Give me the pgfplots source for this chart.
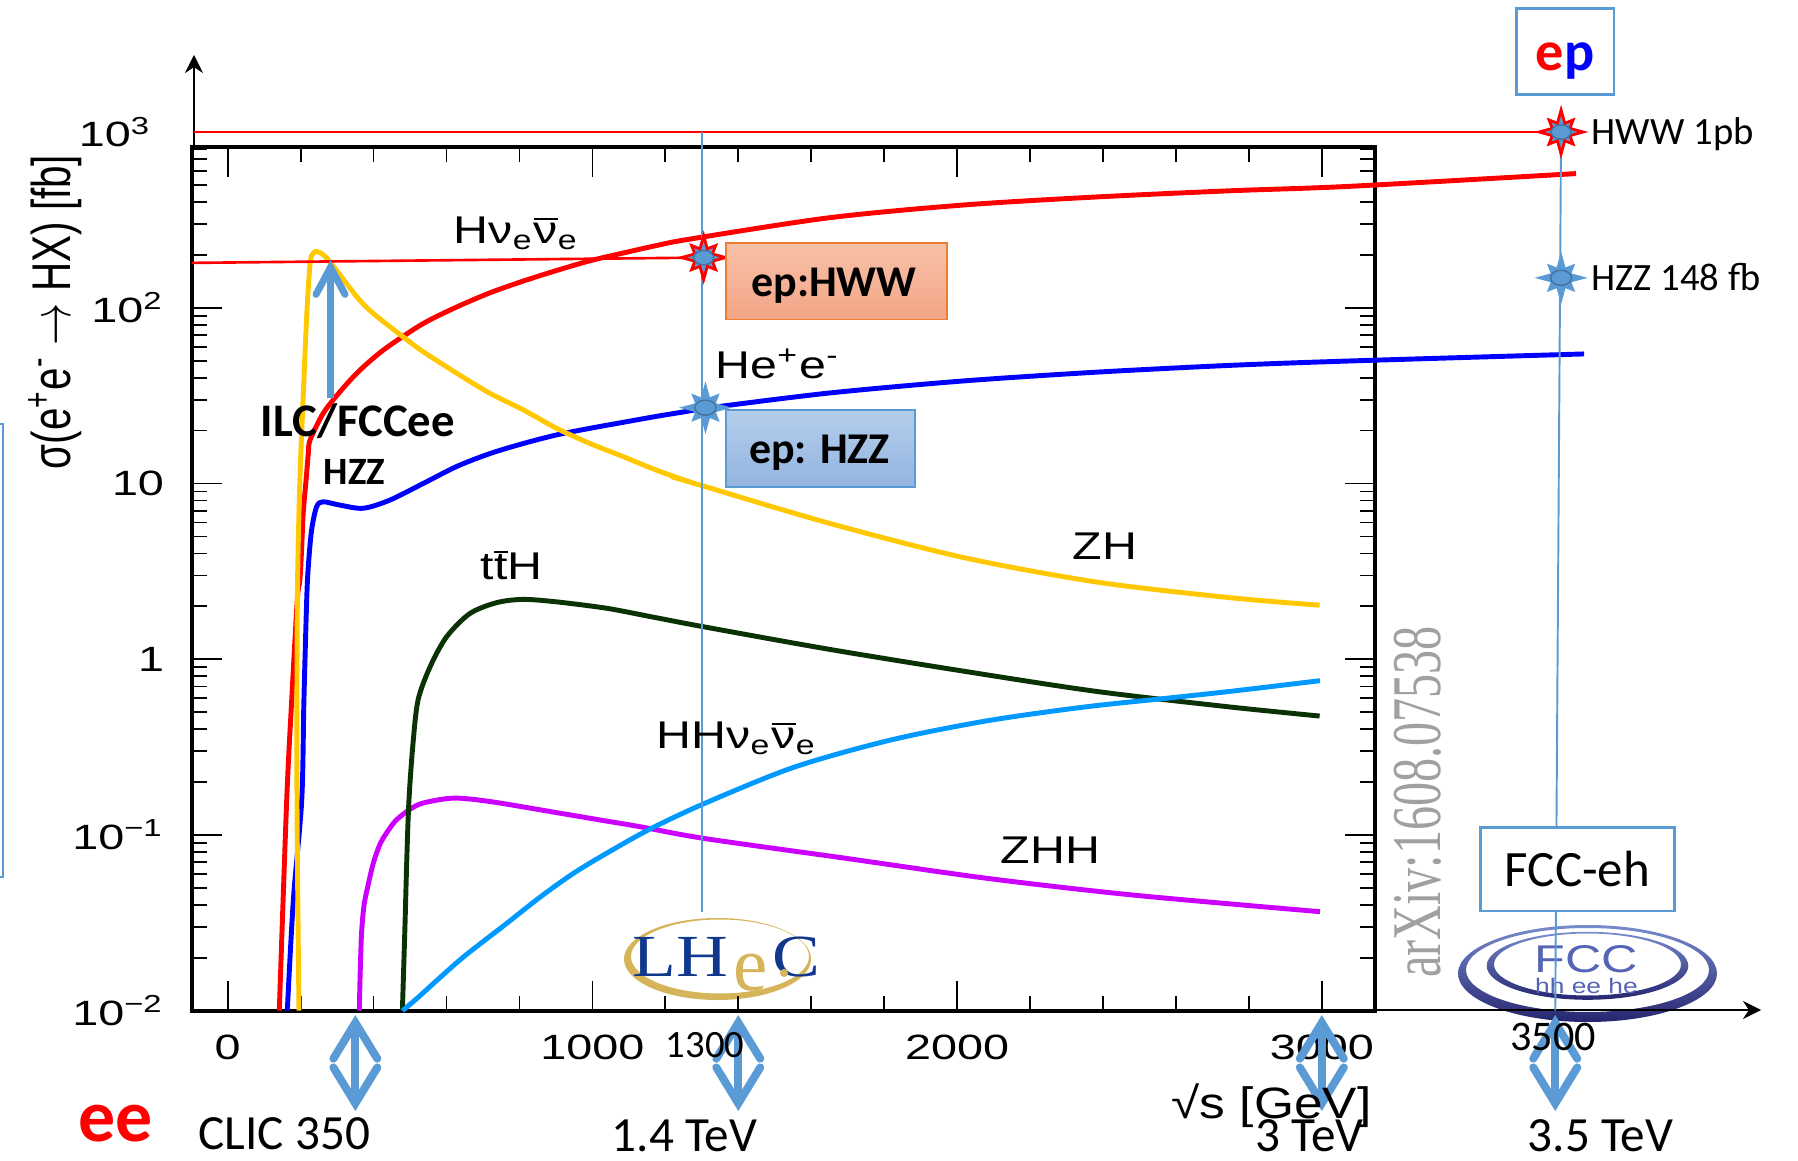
\documentclass[border=0pt]{standalone}
\usepackage{fontspec}
\setmainfont{Liberation Sans}
\newfontfamily\calib{Carlito}
\newfontfamily\serifrm{Liberation Serif}
\usepackage{graphicx}
\usepackage{pgfplots}
\pgfplotsset{compat=1.18}
\usetikzlibrary{arrows.meta}

\definecolor{zhgold}{RGB}{255,200,0}
\definecolor{tthgreen}{RGB}{10,50,5}
\definecolor{zhhpurple}{RGB}{204,0,255}
\definecolor{hhsky}{RGB}{0,153,255}
\definecolor{lineblue}{RGB}{91,155,213}
\definecolor{stardark}{RGB}{65,113,156}
\definecolor{lhecgold}{RGB}{214,180,90}
\definecolor{lhecnavy}{RGB}{16,56,140}
\definecolor{fccnavy}{RGB}{38,38,112}
\definecolor{fcclight}{RGB}{120,140,205}
\definecolor{fcctext}{RGB}{85,100,180}
\definecolor{arxivgray}{RGB}{160,160,160}

% tick labels and curve labels are set slightly wide
\newcommand\wtick[1]{{\fontsize{10}{12}\selectfont\scalebox{1.33}[1]{#1}}}
\newcommand\clab[1]{{\fontsize{11}{13}\selectfont\scalebox{1.25}[1]{#1}}}
\newcommand\nubar{\leavevmode\setbox0\hbox{ν}\rlap{\rule[1.12\ht0]{\wd0}{0.06em}}\box0}
\newcommand\tbar{\leavevmode\setbox0\hbox{t}\rlap{\rule[1.08\ht0]{\wd0}{0.06em}}\box0}

% starburst with an oval core
\pgfdeclareplotmark{burst}{%
  \pgfpathmoveto{\pgfpointpolar{0}{2.2\pgfplotmarksize}}%
  \pgfpathlineto{\pgfpointpolar{22.5}{0.95\pgfplotmarksize}}%
  \pgfpathlineto{\pgfpointpolar{45}{1.7\pgfplotmarksize}}%
  \pgfpathlineto{\pgfpointpolar{67.5}{0.95\pgfplotmarksize}}%
  \pgfpathlineto{\pgfpointpolar{90}{2.2\pgfplotmarksize}}%
  \pgfpathlineto{\pgfpointpolar{112.5}{0.95\pgfplotmarksize}}%
  \pgfpathlineto{\pgfpointpolar{135}{1.7\pgfplotmarksize}}%
  \pgfpathlineto{\pgfpointpolar{157.5}{0.95\pgfplotmarksize}}%
  \pgfpathlineto{\pgfpointpolar{180}{2.2\pgfplotmarksize}}%
  \pgfpathlineto{\pgfpointpolar{202.5}{0.95\pgfplotmarksize}}%
  \pgfpathlineto{\pgfpointpolar{225}{1.7\pgfplotmarksize}}%
  \pgfpathlineto{\pgfpointpolar{247.5}{0.95\pgfplotmarksize}}%
  \pgfpathlineto{\pgfpointpolar{270}{2.2\pgfplotmarksize}}%
  \pgfpathlineto{\pgfpointpolar{292.5}{0.95\pgfplotmarksize}}%
  \pgfpathlineto{\pgfpointpolar{315}{1.7\pgfplotmarksize}}%
  \pgfpathlineto{\pgfpointpolar{337.5}{0.95\pgfplotmarksize}}%
  \pgfpathclose
  \pgfusepathqfillstroke
  \pgfscope
  \pgfpathellipse{\pgfpointorigin}{\pgfqpoint{1.0\pgfplotmarksize}{0pt}}{\pgfqpoint{0pt}{0.72\pgfplotmarksize}}%
  \pgfsetfillcolor{lineblue}%
  \pgfsetstrokecolor{stardark}%
  \pgfsetlinewidth{0.4pt}%
  \pgfusepathqfillstroke
  \endpgfscope
}

\tikzset{
  dblarrow/.style={lineblue, line width=0.8mm,
    {Straight Barb[length=3.6mm,width=4.4mm,line cap=round]}-{Straight Barb[length=3.6mm,width=4.4mm,line cap=round]}},
  xsec/.style={line width=1.4pt, smooth, tension=0.5}
}

\begin{document}
\begin{tikzpicture}
\path[use as bounding box] (0,0) rectangle (17.98,11.60);

% partly visible frame at the left edge
\draw[lineblue, line width=0.6pt] (0,7.36) -- (0.03,7.36) -- (0.03,2.83) -- (0,2.83);

% FCC logo
\shade[even odd rule, top color=fcclight, bottom color=fccnavy]
  (15.875,1.865) ellipse [x radius=1.295, y radius=0.485]
  (15.875,1.90) ellipse [x radius=1.215, y radius=0.42];
\shade[even odd rule, top color=fcclight, bottom color=fccnavy]
  (15.875,1.942) ellipse [x radius=1.008, y radius=0.34]
  (15.875,1.955) ellipse [x radius=0.935, y radius=0.31];
\node[anchor=base, inner sep=0pt, text=fcctext] at (15.865,1.88)
  {\fontsize{11}{13}\selectfont\scalebox{1.3}[1]{FCC}};
\node[anchor=base, inner sep=0pt, text=fcctext] at (15.865,1.66)
  {\fontsize{6}{7}\selectfont\scalebox{1.25}[1]{hh ee he}};

% LHeC logo
\fill[lhecgold, even odd rule]
  (7.175,2.01) ellipse [x radius=0.935, y radius=0.41]
  (7.20,2.035) ellipse [x radius=0.89, y radius=0.37];
\node[anchor=base west, inner sep=0pt, text=lhecnavy] at (6.315,1.83)
  {\serifrm\fontsize{17}{20}\selectfont\scalebox{1.2}[1]{LH}};
\node[anchor=base west, inner sep=0pt, text=lhecgold] at (7.33,1.70)
  {\serifrm\fontsize{22}{26}\selectfont e};
\node[anchor=base west, inner sep=0pt, text=lhecnavy] at (7.72,1.83)
  {\serifrm\fontsize{17}{20}\selectfont\scalebox{1.2}[1]{C}};
\fill[lhecgold] (7.84,1.87) circle (0.04);

% extended axes beyond the frame
\draw[line width=0.7pt, -{Stealth[length=1.8mm,width=1.8mm]}] (1.94,10.10) -- (1.94,11.05);
\draw[line width=0.7pt, -{Stealth[length=1.8mm,width=1.8mm]}] (13.73,1.50) -- (17.61,1.50);

% vertical axis title
\node[rotate=90] at (0.55,8.48)
  {\fontsize{11.5}{14}\selectfont\scalebox{1}[1.35]{σ(e\textsuperscript{+}e\textsuperscript{-} $\rightarrow$ HX) [fb]}};

\begin{axis}[
  at={(1.917cm,1.493cm)}, anchor=south west,
  scale only axis, width=11.83cm, height=8.634cm,
  xmin=-98.7, xmax=3145,
  ymode=log, ymin=0.01, ymax=818.5,
  clip=false,
  axis line style={line width=1.1pt},
  tick align=inside,
  major tick length=3mm, minor tick length=1.5mm,
  tick style={black, line width=0.5pt},
  xtick={0,1000,2000,3000},
  minor xtick={200,400,600,800,1200,1400,1600,1800,2200,2400,2600,2800},
  ytick={0.01,0.1,1,10,100},
  minor ytick={0.02,0.03,0.04,0.05,0.06,0.07,0.08,0.09,
               0.2,0.3,0.4,0.5,0.6,0.7,0.8,0.9,
               2,3,4,5,6,7,8,9,20,30,40,50,60,70,80,90,
               200,300,400,500,600,700,800},
  /pgf/number format/assume math mode=true,
  xticklabels={\wtick{0},\wtick{1000},\wtick{2000},\wtick{3000}},
  yticklabels={\wtick{10\textsuperscript{−2}},\wtick{10\textsuperscript{−1}},
               \wtick{1},\wtick{10},\wtick{10\textsuperscript{2}}},
  xticklabel style={inner sep=0pt, yshift=-2.4mm},
  yticklabel style={inner sep=0pt, xshift=-2.7mm},
]
% H nu nu (WW fusion)
\addplot[red, xsec] coordinates {
 (141.5,0.01) (161.8,0.158) (175.5,0.586) (190.8,2.17) (198,2.83) (203,4.37)
 (207,6.76) (215,10.5) (221,14.8) (226,17.7) (262,25.1) (308,33.3) (354,42.4)
 (399,51.6) (445,61.2) (536,81.3) (628,101) (719,121.6) (811,142) (902,163)
 (993,185) (1085,205) (1176,226) (1268,246) (1648,325) (2015,384) (2382,427)
 (2748,463) (3078,491) (3697,580)};
% H e+ e- (ZZ fusion)
\addplot[blue, xsec] coordinates {
 (163.4,0.01) (180,0.0426) (203,0.158) (209,0.586) (216.6,2.17) (221,3.36)
 (230,5.43) (244,7.38) (262,7.87) (308,7.53) (372,7.23) (445,8.05) (536,10.0)
 (628,12.5) (719,14.8) (811,16.9) (902,18.9) (993,20.6) (1085,22.3)
 (1176,24.1) (1268,25.9) (1317,26.9) (1648,32.7) (2015,38.3) (2382,43)
 (2748,47) (3078,49.8) (3719,54.6)};
% ZH
\addplot[zhgold, xsec] coordinates {
 (195.5,0.01) (190,0.158) (191,2.17) (198,10.5) (209,38.8) (217,93) (226,179)
 (235,205) (248,208) (276,187) (354,115.5) (399,92.9) (486,67)
 (536,56.2) (628,42.4) (719,32.6) (811,26.2) (902,20.6) (993,16.9)
 (1085,14.2) (1176,11.9) (1268,10.2) (1305,9.66) (1648,5.95) (2015,3.8)
 (2382,2.75) (2748,2.24) (2994,2.03)};
% ZHH
\addplot[zhhpurple, xsec] coordinates {
 (361,0.01) (363,0.0156) (367,0.0275) (374,0.04) (386,0.053) (400,0.07)
 (418,0.089) (440,0.106) (463,0.122) (500,0.14) (536,0.152) (619,0.162)
 (719,0.155) (902,0.134) (1021,0.1217) (1131,0.1114) (1307,0.0955)
 (1686,0.0741) (2084,0.0566) (2483,0.0455) (2995,0.0366)};
% ttH
\addplot[tthgreen, xsec] coordinates {
 (479,0.01) (486,0.03) (491,0.072) (497,0.158) (508,0.33) (522,0.586)
 (555,0.906) (600,1.34) (664,1.82) (738,2.1) (810,2.19) (902,2.12) (1039,1.95)
 (1158,1.75) (1305,1.53) (1648,1.14) (2015,0.857) (2382,0.656) (2748,0.535)
 (2994,0.475)};
% HH nu nu
\addplot[hhsky, xsec] coordinates {
 (479,0.01) (520,0.0118) (580,0.0153) (650,0.0205) (765,0.0314) (856,0.0442)
 (948,0.0605) (1039,0.0787) (1154,0.107) (1307,0.151) (1553,0.243)
 (1818,0.347) (2084,0.447) (2350,0.535) (2575,0.6) (2748,0.656) (2995,0.755)};

% ep reference lines
\addplot[red, line width=0.75pt] coordinates {(-92,1000) (3656,1000)};
\addplot[red, line width=0.75pt] coordinates {(-98.7,180) (1305,193)};
\addplot[lineblue, line width=0.55pt] coordinates {(1300,1000) (1300,0.0366)};
\addplot[lineblue, line width=0.55pt] coordinates {(3656,1000) (3640,0.01)};

% ep cross sections
\addplot[only marks, mark=burst, mark size=1mm,
  mark options={draw=red, fill=lineblue, line width=0.8pt}]
  coordinates {(1305,193) (3656,1000)};
\addplot[only marks, mark=burst, mark size=1.05mm,
  mark options={draw=lineblue, fill=lineblue, line width=0.5pt}]
  coordinates {(1310,27) (3656,148)};

\node[anchor=base west, inner sep=0pt, xshift=3mm, yshift=-3.5pt] at (axis cs:3656,1000)
  {\calib\fontsize{11}{13}\selectfont HWW 1pb};
\node[anchor=base west, inner sep=0pt, xshift=3mm, yshift=-3.5pt] at (axis cs:3656,148)
  {\calib\fontsize{11}{13}\selectfont HZZ 148 fb};

% ILC / FCC-ee pointer
\draw[lineblue, line width=0.7mm, -{Straight Barb[length=2.7mm,width=2.9mm,line cap=round]}]
  (axis cs:282,30.7) -- (axis cs:282,187);

% collider energies
\draw[dblarrow] (axis cs:350,0.00945) -- (axis cs:350,0.002685);
\draw[dblarrow] (axis cs:1400,0.00945) -- (axis cs:1400,0.002685);
\draw[dblarrow] (axis cs:3000,0.00945) -- (axis cs:3000,0.002685);
\draw[dblarrow] (axis cs:3640,0.00945) -- (axis cs:3640,0.002685);
\end{axis}

% 10^3 on the extended axis
\node[anchor=east, inner sep=0pt] at (1.52,10.28) {\wtick{10\textsuperscript{3}}};

% curve labels
\node[anchor=base west, inner sep=0pt] at (4.53,9.167) {\clab{Hν\textsubscript{e}\nubar\textsubscript{e}}};
\node[anchor=base west, inner sep=0pt] at (7.15,7.812) {\clab{He\textsuperscript{+}e\textsuperscript{-}}};
\node[anchor=base west, inner sep=0pt] at (10.72,6.00) {\clab{ZH}};
\node[anchor=base west, inner sep=0pt] at (4.80,5.80) {\clab{t\tbar H}};
\node[anchor=base west, inner sep=0pt] at (6.56,4.117) {\clab{HHν\textsubscript{e}\nubar\textsubscript{e}}};
\node[anchor=base west, inner sep=0pt] at (10.00,2.967) {\clab{ZHH}};

% ep boxes
\path[draw={rgb,255:red,237;green,125;blue,49}, line width=0.5pt,
  top color={rgb,255:red,248;green,193;blue,168},
  bottom color={rgb,255:red,243;green,165;blue,134}]
  (7.259,8.405) rectangle (9.469,9.173);
\node[anchor=base, inner sep=0pt] at (8.34,8.637) {\calib\bfseries\fontsize{12.5}{15}\selectfont ep:HWW};
\path[draw=lineblue, line width=0.5pt,
  top color={rgb,255:red,180;green,205;blue,235},
  bottom color={rgb,255:red,148;green,181;blue,224}]
  (7.259,6.731) rectangle (9.147,7.50);
\node[anchor=base, inner sep=0pt] at (8.195,6.963) {\calib\bfseries\fontsize{12.5}{15}\selectfont ep: HZZ};

\node[anchor=base west, inner sep=0pt] at (2.60,7.233) {\calib\bfseries\fontsize{13.3}{16}\selectfont ILC/FCCee};
\node[anchor=base west, inner sep=0pt] at (3.23,6.75) {\calib\bfseries\fontsize{11}{13}\selectfont HZZ};

% FCC-eh and ep boxes
\draw[lineblue, line width=0.7pt, fill=white] (14.807,2.49) rectangle (16.743,3.327);
\node[anchor=base, inner sep=0pt] at (15.775,2.73) {\calib\fontsize{14.5}{17}\selectfont FCC-eh};
\draw[lineblue, line width=0.7pt, fill=white] (15.167,10.655) rectangle (16.138,11.516);
\node[anchor=base, inner sep=0pt] at (15.65,10.89)
  {\calib\bfseries\fontsize{16}{19}\selectfont\textcolor{red}{e}\textcolor{blue}{p}};

% arXiv stamp
\node[rotate=90, inner sep=0pt, text=arxivgray] at (14.18,3.58)
  {\serifrm\fontsize{13.7}{16}\selectfont\scalebox{1}[1.45]{arXiv:1608.07538}};

% extra axis labels
\node[anchor=north, inner sep=0pt] at (7.05,1.28) {\calib\fontsize{11}{13}\selectfont 1300};
\node[anchor=north, inner sep=0pt] at (15.53,1.38) {\calib\fontsize{12}{14}\selectfont 3500};
\node[anchor=base east, inner sep=0pt] at (13.72,0.413)
  {\fontsize{12.5}{15}\selectfont\scalebox{1.17}[1]{√s [GeV]}};

% collider labels
\node[anchor=base west, inner sep=0pt, text=red] at (0.775,0.183) {\calib\bfseries\fontsize{21}{25}\selectfont ee};
\node[anchor=base west, inner sep=0pt] at (1.98,0.11) {\calib\fontsize{14}{17}\selectfont CLIC 350};
\node[anchor=base west, inner sep=0pt] at (6.11,0.09) {\calib\fontsize{14}{17}\selectfont 1.4 TeV};
\node[anchor=base west, inner sep=0pt] at (12.55,0.09) {\calib\fontsize{14}{17}\selectfont 3 TeV};
\node[anchor=base west, inner sep=0pt] at (15.27,0.09) {\calib\fontsize{14}{17}\selectfont 3.5 TeV};
\end{tikzpicture}
\end{document}
